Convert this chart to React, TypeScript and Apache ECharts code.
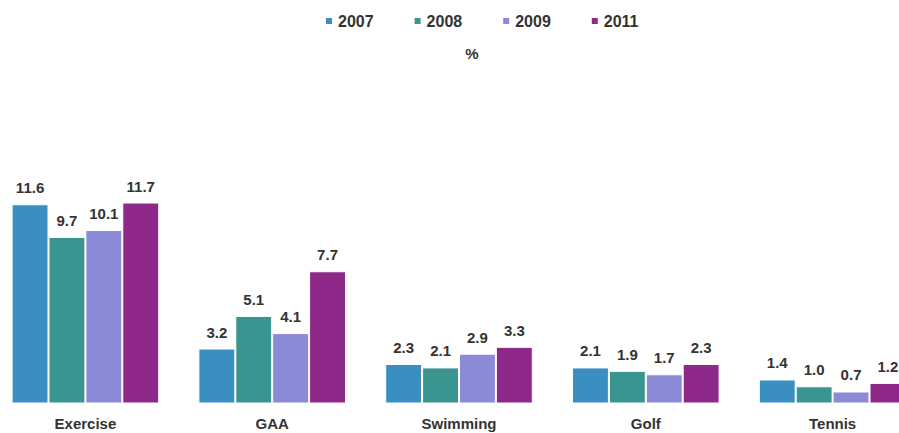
import React, { useEffect, useRef } from "react";
import * as echarts from "echarts";

const categories = ["Exercise", "GAA", "Swimming", "Golf", "Tennis"];
const years = ["2007", "2008", "2009", "2011"];
const values2007 = [11.6, 3.2, 2.3, 2.1, 1.4];
const values2008 = [9.7, 5.1, 2.1, 1.9, 1.0];
const values2009 = [10.1, 4.1, 2.9, 1.7, 0.7];
const values2011 = [11.7, 7.7, 3.3, 2.3, 1.2];
const colors = ["#3a8fc0", "#3a9490", "#8a8ad6", "#8e2889"];

const FONT = "'Liberation Sans', Arial, sans-serif";
const SHIFT = 8;

export default function App() {
  const ref = useRef<HTMLDivElement>(null);
  useEffect(() => {
    if (!ref.current) return;
    const chart = echarts.init(ref.current, undefined, { renderer: "svg" });
    const seriesData = [values2007, values2008, values2009, values2011];
    chart.setOption({
      animation: false,
      color: colors,
      textStyle: { fontFamily: FONT },
      legend: {
        data: years,
        left: 319 + SHIFT,
        top: 8,
        itemWidth: 8,
        itemHeight: 8,
        itemGap: 39,
        icon: "rect",
        textStyle: { fontSize: 16, fontWeight: "bold", color: "#333", fontFamily: FONT },
      },
      title: {
        text: "%",
        left: 467 + SHIFT,
        top: 41,
        textAlign: "center",
        textStyle: { fontSize: 15, fontWeight: "bold", color: "#333", fontFamily: FONT },
      },
      grid: { left: 0, right: 0, top: 60, bottom: 29.5, containLabel: false },
      xAxis: {
        type: "category",
        data: categories,
        axisLine: { show: false },
        axisTick: { show: false },
        axisLabel: { fontSize: 15, fontWeight: "bold", color: "#333", margin: 12, fontFamily: FONT },
      },
      yAxis: {
        type: "value",
        min: 0,
        max: 20,
        show: false,
        splitLine: { show: false },
      },
      series: years.map((y, i) => ({
        name: y,
        type: "bar",
        data: seriesData[i],
        barGap: "0%",
        barCategoryGap: "21%",
        itemStyle: { color: colors[i], borderColor: "#ffffff", borderWidth: 1 },
        label: {
          show: true,
          position: "top",
          distance: 9,
          formatter: (p: any) => Number(p.value).toFixed(1),
          fontSize: 15,
          fontWeight: "bold",
          color: "#333",
          fontFamily: FONT,
        },
      })),
    });
    return () => chart.dispose();
  }, []);
  return (
    <div
      ref={ref}
      style={{ position: "fixed", left: -SHIFT, top: 0, width: 934, height: 433, background: "#fff" }}
    />
  );
}
